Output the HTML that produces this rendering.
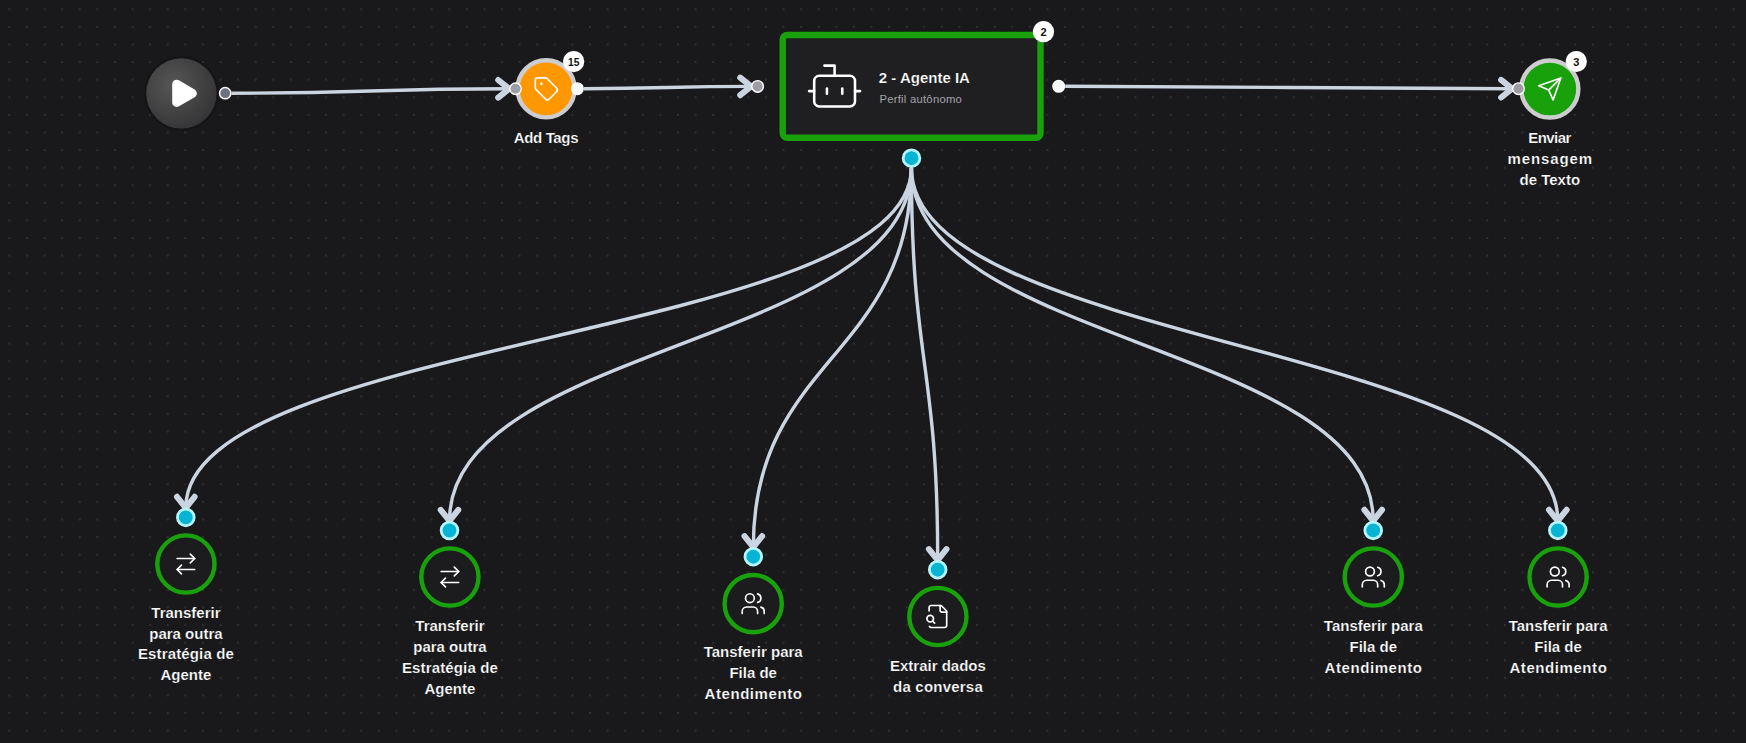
<!DOCTYPE html>
<html><head><meta charset="utf-8"><style>
html,body{margin:0;padding:0;background:#19191b;width:1746px;height:743px;overflow:hidden}
svg{display:block}
text{font-family:"Liberation Sans",sans-serif}
</style></head><body>
<svg width="1746" height="743" viewBox="0 0 1746 743">
<defs>
<pattern id="dots" x="0.62" y="0.45" width="17.594" height="17.594" patternUnits="userSpaceOnUse"><circle cx="8.797" cy="8.797" r="0.45" fill="#c4c4cc"/></pattern>
<radialGradient id="playg" cx="0.38" cy="0.38" r="0.7"><stop offset="0" stop-color="#565656"/><stop offset="1" stop-color="#333335"/></radialGradient>
</defs>
<rect width="1746" height="743" fill="#19191b"/>
<rect width="1746" height="743" fill="url(#dots)"/>
<path d="M231.5,93.2 C370.35,93.2 370.35,88.8 509.2,88.8" fill="none" stroke="#cbd5e1" stroke-width="3.4"/><polyline points="498.20,80.00 509.2,88.8 498.20,97.60" fill="none" stroke="#cbd5e1" stroke-width="6.0" stroke-linecap="round" stroke-linejoin="round"/><path d="M584.0,88.7 C667.6,88.7 667.6,86.4 751.2,86.4" fill="none" stroke="#cbd5e1" stroke-width="3.4"/><polyline points="740.20,77.60 751.2,86.4 740.20,95.20" fill="none" stroke="#cbd5e1" stroke-width="6.0" stroke-linecap="round" stroke-linejoin="round"/><path d="M1065.2,86.3 C1288.65,86.3 1288.65,88.7 1512.1,88.7" fill="none" stroke="#cbd5e1" stroke-width="3.4"/><polyline points="1501.10,79.90 1512.1,88.7 1501.10,97.50" fill="none" stroke="#cbd5e1" stroke-width="6.0" stroke-linecap="round" stroke-linejoin="round"/><path d="M911.4,167.8 C911.4,337.79999999999995 185.8,337.79999999999995 185.8,507.79999999999995" fill="none" stroke="#cbd5e1" stroke-width="3.4"/><polyline points="194.60,496.80 185.8,507.79999999999995 177.00,496.80" fill="none" stroke="#cbd5e1" stroke-width="6.0" stroke-linecap="round" stroke-linejoin="round"/><path d="M911.4,167.8 C911.4,344.35 449.5,344.35 449.5,520.9" fill="none" stroke="#cbd5e1" stroke-width="3.4"/><polyline points="458.30,509.90 449.5,520.9 440.70,509.90" fill="none" stroke="#cbd5e1" stroke-width="6.0" stroke-linecap="round" stroke-linejoin="round"/><path d="M911.4,167.8 C911.4,357.45000000000005 753.3,357.45000000000005 753.3,547.1" fill="none" stroke="#cbd5e1" stroke-width="3.4"/><polyline points="762.10,536.10 753.3,547.1 744.50,536.10" fill="none" stroke="#cbd5e1" stroke-width="6.0" stroke-linecap="round" stroke-linejoin="round"/><path d="M911.4,167.8 C911.4,363.95000000000005 937.7,363.95000000000005 937.7,560.1" fill="none" stroke="#cbd5e1" stroke-width="3.4"/><polyline points="946.50,549.10 937.7,560.1 928.90,549.10" fill="none" stroke="#cbd5e1" stroke-width="6.0" stroke-linecap="round" stroke-linejoin="round"/><path d="M911.4,167.8 C911.4,344.29999999999995 1373.2,344.29999999999995 1373.2,520.8" fill="none" stroke="#cbd5e1" stroke-width="3.4"/><polyline points="1382.00,509.80 1373.2,520.8 1364.40,509.80" fill="none" stroke="#cbd5e1" stroke-width="6.0" stroke-linecap="round" stroke-linejoin="round"/><path d="M911.4,167.8 C911.4,344.29999999999995 1557.8,344.29999999999995 1557.8,520.8" fill="none" stroke="#cbd5e1" stroke-width="3.4"/><polyline points="1566.60,509.80 1557.8,520.8 1549.00,509.80" fill="none" stroke="#cbd5e1" stroke-width="6.0" stroke-linecap="round" stroke-linejoin="round"/>
<circle cx="181.4" cy="93.4" r="36.2" fill="none" stroke="rgba(0,0,0,0.18)" stroke-width="2.4"/><circle cx="181.4" cy="93.4" r="35.2" fill="url(#playg)"/><polygon points="176.7,84.2 192.4,93.3 176.7,102.4" fill="#fff" stroke="#fff" stroke-width="9" stroke-linejoin="round"/><circle cx="225.2" cy="93.2" r="5.65" fill="#6b7280" stroke="#ffffff" stroke-width="1.5"/><circle cx="546.1" cy="88.8" r="28.55" fill="#ff9800" stroke="#cdcdd0" stroke-width="4.4"/><g transform="translate(533.10,75.60) scale(1.1)" fill="none" stroke="#ffffff" stroke-width="1.5" stroke-linecap="round" stroke-linejoin="round"><path d="M12.586 2.586A2 2 0 0 0 11.172 2H4a2 2 0 0 0-2 2v7.172a2 2 0 0 0 .586 1.414l8.704 8.704a2.426 2.426 0 0 0 3.42 0l6.58-6.58a2.426 2.426 0 0 0 0-3.42z"/><circle cx="7.5" cy="7.5" r=".5" fill="#fff"/></g><circle cx="515.5" cy="88.8" r="5.75" fill="#9d9da6" stroke="#ffffff" stroke-width="1.4"/><circle cx="577.4" cy="88.7" r="5.80" fill="#f8f8f8" stroke="#ffffff" stroke-width="1.4"/><circle cx="573.7" cy="61.6" r="10.6" fill="#ffffff"/><text x="573.7" y="65.6" text-anchor="middle" font-family="Liberation Sans" font-weight="700" font-size="11" fill="#111" textLength="11.4" lengthAdjust="spacingAndGlyphs">15</text><text x="546.1" y="142.80" text-anchor="middle" font-family="Liberation Sans" font-weight="700" font-size="15" fill="#ffffff" stroke="#19191b" stroke-width="0.22" textLength="64.8" lengthAdjust="spacing">Add Tags</text><rect x="782.7" y="35" width="257.8" height="102.8" rx="4.5" fill="#1f1f22" stroke="#18a10a" stroke-width="6.4"/><g transform="translate(804,55.4) scale(2.55)" fill="none" stroke="#fff" stroke-width="1" stroke-linecap="round" stroke-linejoin="round"><path d="M12 8V4H8"/><rect width="16" height="12" x="4" y="8" rx="2"/><path d="M2 14h2"/><path d="M20 14h2"/><path d="M15 13v2"/><path d="M9 13v2"/></g><text x="878.8" y="83.2" font-family="Liberation Sans" font-weight="700" font-size="15" fill="#fff" stroke="#1f1f22" stroke-width="0.22">2 - Agente IA</text><text x="879.4" y="102.9" font-family="Liberation Sans" font-size="11.3" fill="#a3a3a8" textLength="82.5" lengthAdjust="spacing">Perfil autônomo</text><circle cx="757.6" cy="86.4" r="5.80" fill="#9d9da6" stroke="#ffffff" stroke-width="1.4"/><circle cx="1058.7" cy="86.3" r="5.80" fill="#f8f8f8" stroke="#ffffff" stroke-width="1.4"/><circle cx="911.5" cy="158.2" r="8.35" fill="#08b4d4" stroke="#b5f5fd" stroke-width="2.8"/><circle cx="1043.5" cy="31.7" r="10.6" fill="#ffffff"/><text x="1043.5" y="35.7" text-anchor="middle" font-family="Liberation Sans" font-weight="700" font-size="11" fill="#111">2</text><circle cx="1549.8" cy="89" r="28.55" fill="#18a10a" stroke="#cdcdd0" stroke-width="4.4"/><g transform="translate(1536.60,75.80) scale(1.1)" fill="none" stroke="#ffffff" stroke-width="1.5" stroke-linecap="round" stroke-linejoin="round"><path d="m22 2-7 20-4-9-9-4Z"/><path d="M22 2 11 13"/></g><circle cx="1518.5" cy="88.7" r="5.80" fill="#9d9da6" stroke="#ffffff" stroke-width="1.4"/><circle cx="1576.3" cy="61.5" r="10.6" fill="#ffffff"/><text x="1576.3" y="65.5" text-anchor="middle" font-family="Liberation Sans" font-weight="700" font-size="11" fill="#111">3</text><text x="1549.8" y="143.00" text-anchor="middle" font-family="Liberation Sans" font-weight="700" font-size="15" fill="#ffffff" stroke="#19191b" stroke-width="0.22" textLength="42.9" lengthAdjust="spacing">Enviar</text><text x="1549.8" y="163.80" text-anchor="middle" font-family="Liberation Sans" font-weight="700" font-size="15" fill="#ffffff" stroke="#19191b" stroke-width="0.22" textLength="84.4" lengthAdjust="spacing">mensagem</text><text x="1549.8" y="184.60" text-anchor="middle" font-family="Liberation Sans" font-weight="700" font-size="15" fill="#ffffff" stroke="#19191b" stroke-width="0.22">de Texto</text><circle cx="185.9" cy="564.0" r="28.6" fill="#1c1c1f" stroke="#18a10a" stroke-width="4.4"/><g transform="translate(172.70,550.80) scale(1.1)" fill="none" stroke="#ffffff" stroke-width="1.5" stroke-linecap="round" stroke-linejoin="round"><path d="m16 3 4 4-4 4"/><path d="M20 7H4"/><path d="m8 21-4-4 4-4"/><path d="M4 17h16"/></g><circle cx="185.8" cy="517.4" r="8.35" fill="#08b4d4" stroke="#b5f5fd" stroke-width="2.8"/><text x="185.9" y="617.70" text-anchor="middle" font-family="Liberation Sans" font-weight="700" font-size="15" fill="#ffffff" stroke="#19191b" stroke-width="0.22">Transferir</text><text x="185.9" y="638.50" text-anchor="middle" font-family="Liberation Sans" font-weight="700" font-size="15" fill="#ffffff" stroke="#19191b" stroke-width="0.22">para outra</text><text x="185.9" y="659.30" text-anchor="middle" font-family="Liberation Sans" font-weight="700" font-size="15" fill="#ffffff" stroke="#19191b" stroke-width="0.22" textLength="95.9" lengthAdjust="spacing">Estratégia de</text><text x="185.9" y="680.10" text-anchor="middle" font-family="Liberation Sans" font-weight="700" font-size="15" fill="#ffffff" stroke="#19191b" stroke-width="0.22">Agente</text><circle cx="449.9" cy="577.0" r="28.6" fill="#1c1c1f" stroke="#18a10a" stroke-width="4.4"/><g transform="translate(436.70,563.80) scale(1.1)" fill="none" stroke="#ffffff" stroke-width="1.5" stroke-linecap="round" stroke-linejoin="round"><path d="m16 3 4 4-4 4"/><path d="M20 7H4"/><path d="m8 21-4-4 4-4"/><path d="M4 17h16"/></g><circle cx="449.5" cy="530.5" r="8.35" fill="#08b4d4" stroke="#b5f5fd" stroke-width="2.8"/><text x="449.9" y="630.60" text-anchor="middle" font-family="Liberation Sans" font-weight="700" font-size="15" fill="#ffffff" stroke="#19191b" stroke-width="0.22">Transferir</text><text x="449.9" y="651.70" text-anchor="middle" font-family="Liberation Sans" font-weight="700" font-size="15" fill="#ffffff" stroke="#19191b" stroke-width="0.22">para outra</text><text x="449.9" y="672.80" text-anchor="middle" font-family="Liberation Sans" font-weight="700" font-size="15" fill="#ffffff" stroke="#19191b" stroke-width="0.22" textLength="95.9" lengthAdjust="spacing">Estratégia de</text><text x="449.9" y="693.90" text-anchor="middle" font-family="Liberation Sans" font-weight="700" font-size="15" fill="#ffffff" stroke="#19191b" stroke-width="0.22">Agente</text><circle cx="753.2" cy="603.65" r="28.6" fill="#1c1c1f" stroke="#18a10a" stroke-width="4.4"/><g transform="translate(740.00,590.45) scale(1.1)" fill="none" stroke="#ffffff" stroke-width="1.5" stroke-linecap="round" stroke-linejoin="round"><path d="M16 21v-2a4 4 0 0 0-4-4H6a4 4 0 0 0-4 4v2"/><circle cx="9" cy="7" r="4"/><path d="M22 21v-2a4 4 0 0 0-3-3.87"/><path d="M16 3.13a4 4 0 0 1 0 7.75"/></g><circle cx="753.3" cy="556.7" r="8.35" fill="#08b4d4" stroke="#b5f5fd" stroke-width="2.8"/><text x="753.2" y="656.60" text-anchor="middle" font-family="Liberation Sans" font-weight="700" font-size="15" fill="#ffffff" stroke="#19191b" stroke-width="0.22">Tansferir para</text><text x="753.2" y="678.00" text-anchor="middle" font-family="Liberation Sans" font-weight="700" font-size="15" fill="#ffffff" stroke="#19191b" stroke-width="0.22">Fila de</text><text x="753.2" y="699.40" text-anchor="middle" font-family="Liberation Sans" font-weight="700" font-size="15" fill="#ffffff" stroke="#19191b" stroke-width="0.22" textLength="97.4" lengthAdjust="spacing">Atendimento</text><circle cx="937.9" cy="616.5" r="28.6" fill="#1c1c1f" stroke="#18a10a" stroke-width="4.4"/><g transform="translate(924.70,603.30) scale(1.1)" fill="none" stroke="#ffffff" stroke-width="1.5" stroke-linecap="round" stroke-linejoin="round"><path d="M14 2v4a2 2 0 0 0 2 2h4"/><path d="M4.268 21a2 2 0 0 0 1.727 1h12a2 2 0 0 0 2-2V7l-5-5H6a2 2 0 0 0-2 2v3"/><path d="m9 18-1.5-1.5"/><circle cx="5" cy="14" r="3"/></g><circle cx="937.7" cy="569.7" r="8.35" fill="#08b4d4" stroke="#b5f5fd" stroke-width="2.8"/><text x="937.9" y="670.90" text-anchor="middle" font-family="Liberation Sans" font-weight="700" font-size="15" fill="#ffffff" stroke="#19191b" stroke-width="0.22">Extrair dados</text><text x="937.9" y="691.80" text-anchor="middle" font-family="Liberation Sans" font-weight="700" font-size="15" fill="#ffffff" stroke="#19191b" stroke-width="0.22" textLength="89.7" lengthAdjust="spacing">da conversa</text><circle cx="1373.3" cy="577.0" r="28.6" fill="#1c1c1f" stroke="#18a10a" stroke-width="4.4"/><g transform="translate(1360.10,563.80) scale(1.1)" fill="none" stroke="#ffffff" stroke-width="1.5" stroke-linecap="round" stroke-linejoin="round"><path d="M16 21v-2a4 4 0 0 0-4-4H6a4 4 0 0 0-4 4v2"/><circle cx="9" cy="7" r="4"/><path d="M22 21v-2a4 4 0 0 0-3-3.87"/><path d="M16 3.13a4 4 0 0 1 0 7.75"/></g><circle cx="1373.2" cy="530.4" r="8.35" fill="#08b4d4" stroke="#b5f5fd" stroke-width="2.8"/><text x="1373.3" y="630.60" text-anchor="middle" font-family="Liberation Sans" font-weight="700" font-size="15" fill="#ffffff" stroke="#19191b" stroke-width="0.22">Tansferir para</text><text x="1373.3" y="651.60" text-anchor="middle" font-family="Liberation Sans" font-weight="700" font-size="15" fill="#ffffff" stroke="#19191b" stroke-width="0.22">Fila de</text><text x="1373.3" y="672.60" text-anchor="middle" font-family="Liberation Sans" font-weight="700" font-size="15" fill="#ffffff" stroke="#19191b" stroke-width="0.22" textLength="97.4" lengthAdjust="spacing">Atendimento</text><circle cx="1558.1" cy="577.0" r="28.6" fill="#1c1c1f" stroke="#18a10a" stroke-width="4.4"/><g transform="translate(1544.90,563.80) scale(1.1)" fill="none" stroke="#ffffff" stroke-width="1.5" stroke-linecap="round" stroke-linejoin="round"><path d="M16 21v-2a4 4 0 0 0-4-4H6a4 4 0 0 0-4 4v2"/><circle cx="9" cy="7" r="4"/><path d="M22 21v-2a4 4 0 0 0-3-3.87"/><path d="M16 3.13a4 4 0 0 1 0 7.75"/></g><circle cx="1557.8" cy="530.4" r="8.35" fill="#08b4d4" stroke="#b5f5fd" stroke-width="2.8"/><text x="1558.1" y="630.60" text-anchor="middle" font-family="Liberation Sans" font-weight="700" font-size="15" fill="#ffffff" stroke="#19191b" stroke-width="0.22">Tansferir para</text><text x="1558.1" y="651.60" text-anchor="middle" font-family="Liberation Sans" font-weight="700" font-size="15" fill="#ffffff" stroke="#19191b" stroke-width="0.22">Fila de</text><text x="1558.1" y="672.60" text-anchor="middle" font-family="Liberation Sans" font-weight="700" font-size="15" fill="#ffffff" stroke="#19191b" stroke-width="0.22" textLength="97.4" lengthAdjust="spacing">Atendimento</text>
</svg>
</body></html>
